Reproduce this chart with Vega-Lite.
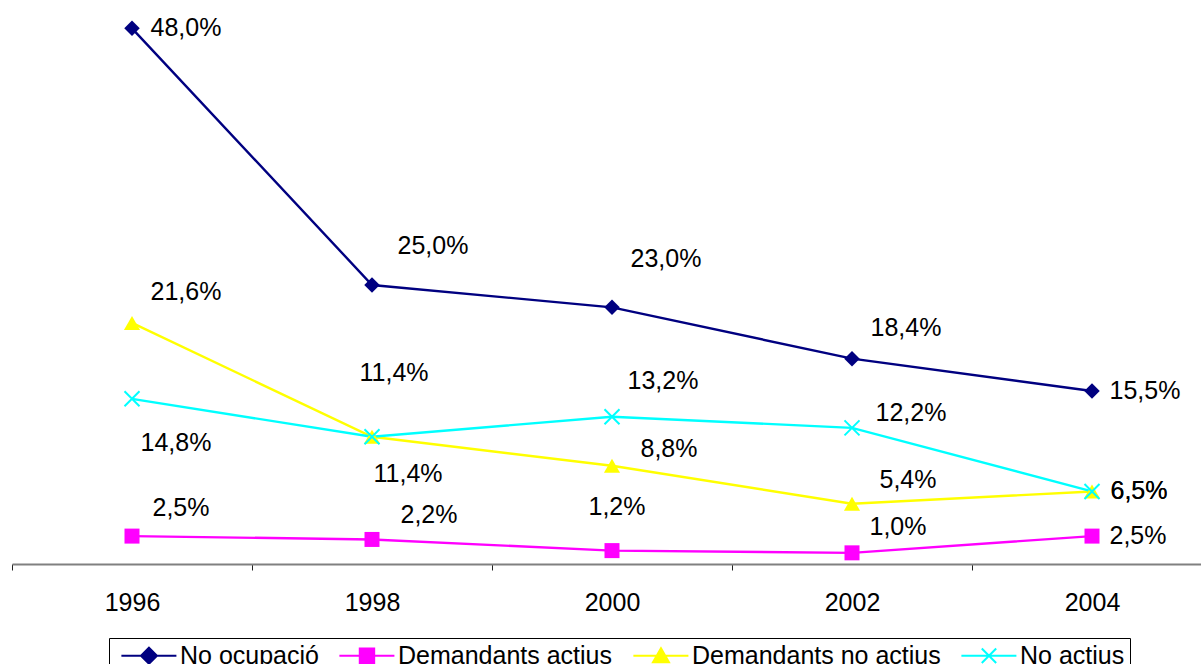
{
  "$schema": "https://vega.github.io/schema/vega-lite/v6.json",
  "width": 1189,
  "height": 558,
  "autosize": {"type": "none"},
  "padding": {"left": 12, "top": 6, "right": 0, "bottom": 100},
  "background": "white",
  "config": {
    "view": {"stroke": null},
    "font": "Liberation Sans",
    "locale": {"number": {"decimal": ",", "thousands": ".", "grouping": [3], "currency": ["", " €"]}},
    "text": {"font": "Liberation Sans", "fontSize": 25, "align": "center", "baseline": "middle", "color": "black"}
  },
  "data": {
    "values": [
      {"series": "No ocupació", "year": "1996", "value": 0.480},
      {"series": "No ocupació", "year": "1998", "value": 0.250},
      {"series": "No ocupació", "year": "2000", "value": 0.230},
      {"series": "No ocupació", "year": "2002", "value": 0.184},
      {"series": "No ocupació", "year": "2004", "value": 0.155},
      {"series": "Demandants actius", "year": "1996", "value": 0.025},
      {"series": "Demandants actius", "year": "1998", "value": 0.022},
      {"series": "Demandants actius", "year": "2000", "value": 0.012},
      {"series": "Demandants actius", "year": "2002", "value": 0.010},
      {"series": "Demandants actius", "year": "2004", "value": 0.025},
      {"series": "Demandants no actius", "year": "1996", "value": 0.216},
      {"series": "Demandants no actius", "year": "1998", "value": 0.114},
      {"series": "Demandants no actius", "year": "2000", "value": 0.088},
      {"series": "Demandants no actius", "year": "2002", "value": 0.054},
      {"series": "Demandants no actius", "year": "2004", "value": 0.065},
      {"series": "No actius", "year": "1996", "value": 0.148},
      {"series": "No actius", "year": "1998", "value": 0.114},
      {"series": "No actius", "year": "2000", "value": 0.132},
      {"series": "No actius", "year": "2002", "value": 0.122},
      {"series": "No actius", "year": "2004", "value": 0.065}
    ]
  },
  "encoding": {
    "x": {
      "field": "year", "type": "ordinal",
      "scale": {"type": "band", "range": [0, 1200], "paddingInner": 0, "paddingOuter": 0},
      "axis": {
        "title": null, "labelAngle": 0, "tickBand": "extent", "grid": false,
        "domainColor": "#808080", "domainWidth": 2, "tickColor": "#222222", "tickWidth": 1, "tickSize": 6,
        "labelFontSize": 25, "labelFont": "Liberation Sans", "labelColor": "black", "labelPadding": 20
      }
    },
    "y": {"field": "value", "type": "quantitative", "scale": {"domain": [0, 0.5]}, "axis": null}
  },
  "layer": [
    {
      "mark": {"type": "line", "strokeWidth": 2.4},
      "encoding": {
        "color": {
          "field": "series", "type": "nominal",
          "scale": {"domain": ["No ocupació", "Demandants actius", "Demandants no actius", "No actius"], "range": ["#000080", "#FF00FF", "#FFFF00", "#00FFFF"]},
          "legend": {"orient": "none", "legendX": 97, "legendY": 632, "direction": "horizontal", "title": null, "strokeColor": "black", "fillColor": "white", "padding": 5, "labelFontSize": 25, "labelFont": "Liberation Sans", "labelColor": "black", "labelLimit": 0, "labelOffset": 41, "columnPadding": 13, "symbolSize": 256, "symbolStrokeWidth": 2, "symbolOpacity": 1,
            "encode": {"symbols": {"update": {"fill": {"scale": "color", "field": "value"}, "stroke": {"scale": "color", "field": "value"}, "strokeWidth": {"value": 2}, "opacity": {"value": 1}}}}}
        }
      }
    },
    {
      "transform": [{"filter": "datum.series === 'No ocupació'"}],
      "mark": {"type": "point", "shape": "diamond", "filled": true, "size": 240, "fill": "#000080", "stroke": null, "opacity": 1}
    },
    {
      "transform": [{"filter": "datum.series === 'Demandants actius'"}],
      "mark": {"type": "point", "shape": "square", "filled": true, "size": 225, "fill": "#FF00FF", "stroke": null, "opacity": 1}
    },
    {
      "transform": [{"filter": "datum.series === 'Demandants no actius'"}],
      "mark": {"type": "point", "shape": "triangle-up", "filled": true, "size": 260, "fill": "#FFFF00", "stroke": null, "opacity": 1}
    },
    {
      "transform": [{"filter": "datum.series === 'No actius'"}],
      "mark": {"type": "point", "shape": "M-1,-1L1,1M-1,1L1,-1", "filled": false, "size": 225, "strokeWidth": 2, "stroke": "#00FFFF", "opacity": 1}
    },
    {
      "transform": [{"filter": "datum.year === '1996'"}],
      "mark": {"type": "point", "filled": true, "size": 256, "opacity": 0, "strokeWidth": 2},
      "encoding": {
        "color": {
          "field": "series", "type": "nominal",
          "scale": {"domain": ["No ocupació", "Demandants actius", "Demandants no actius", "No actius"], "range": ["#000080", "#FF00FF", "#FFFF00", "#00FFFF"]},
          "legend": {"orient": "none", "legendX": 97, "legendY": 632, "direction": "horizontal", "title": null, "strokeColor": "black", "fillColor": "white", "padding": 5, "labelFontSize": 25, "labelFont": "Liberation Sans", "labelColor": "black", "labelLimit": 0, "labelOffset": 41, "columnPadding": 13, "symbolSize": 256, "symbolStrokeWidth": 2, "symbolOpacity": 1,
            "encode": {"symbols": {"update": {"fill": {"scale": "color", "field": "value"}, "stroke": {"scale": "color", "field": "value"}, "strokeWidth": {"value": 2}, "opacity": {"value": 1}}}}}
        },
        "shape": {
          "field": "series", "type": "nominal",
          "scale": {"domain": ["No ocupació", "Demandants actius", "Demandants no actius", "No actius"],
            "range": [
              "M-0.64,0L6.24,0M2.81,-1L3.81,0L2.81,1L1.81,0Z",
              "M-0.64,0L6.24,0M1.91,-0.9L3.71,-0.9L3.71,0.9L1.91,0.9Z",
              "M-0.64,0L6.24,0M2.81,-0.95L3.81,0.8L1.81,0.8Z",
              "M-0.64,0L6.24,0M1.91,-0.9L3.71,0.9M1.91,0.9L3.71,-0.9"
            ]},
          "legend": {"orient": "none", "legendX": 97, "legendY": 632, "direction": "horizontal", "title": null, "strokeColor": "black", "fillColor": "white", "padding": 5, "labelFontSize": 25, "labelFont": "Liberation Sans", "labelColor": "black", "labelLimit": 0, "labelOffset": 41, "columnPadding": 13, "symbolSize": 256, "symbolStrokeWidth": 2, "symbolOpacity": 1,
            "encode": {"symbols": {"update": {"fill": {"scale": "color", "field": "value"}, "stroke": {"scale": "color", "field": "value"}, "strokeWidth": {"value": 2}, "opacity": {"value": 1}}}}}
        }
      }
    },
    {"transform": [{"filter": "datum.series === 'No ocupació' && datum.year === '1996'"}], "mark": {"type": "text", "dx": 54, "dy": 0}, "encoding": {"text": {"field": "value", "format": ".1%"}}},
    {"transform": [{"filter": "datum.series === 'No ocupació' && datum.year === '1998'"}], "mark": {"type": "text", "dx": 61, "dy": -39}, "encoding": {"text": {"field": "value", "format": ".1%"}}},
    {"transform": [{"filter": "datum.series === 'No ocupació' && datum.year === '2000'"}], "mark": {"type": "text", "dx": 54, "dy": -48}, "encoding": {"text": {"field": "value", "format": ".1%"}}},
    {"transform": [{"filter": "datum.series === 'No ocupació' && datum.year === '2002'"}], "mark": {"type": "text", "dx": 54, "dy": -31}, "encoding": {"text": {"field": "value", "format": ".1%"}}},
    {"transform": [{"filter": "datum.series === 'No ocupació' && datum.year === '2004'"}], "mark": {"type": "text", "dx": 53, "dy": 0}, "encoding": {"text": {"field": "value", "format": ".1%"}}},
    {"transform": [{"filter": "datum.series === 'Demandants actius' && datum.year === '1996'"}], "mark": {"type": "text", "dx": 49, "dy": -28}, "encoding": {"text": {"field": "value", "format": ".1%"}}},
    {"transform": [{"filter": "datum.series === 'Demandants actius' && datum.year === '1998'"}], "mark": {"type": "text", "dx": 57, "dy": -24}, "encoding": {"text": {"field": "value", "format": ".1%"}}},
    {"transform": [{"filter": "datum.series === 'Demandants actius' && datum.year === '2000'"}], "mark": {"type": "text", "dx": 5, "dy": -44}, "encoding": {"text": {"field": "value", "format": ".1%"}}},
    {"transform": [{"filter": "datum.series === 'Demandants actius' && datum.year === '2002'"}], "mark": {"type": "text", "dx": 46, "dy": -26}, "encoding": {"text": {"field": "value", "format": ".1%"}}},
    {"transform": [{"filter": "datum.series === 'Demandants actius' && datum.year === '2004'"}], "mark": {"type": "text", "dx": 46, "dy": 0}, "encoding": {"text": {"field": "value", "format": ".1%"}}},
    {"transform": [{"filter": "datum.series === 'Demandants no actius' && datum.year === '1996'"}], "mark": {"type": "text", "dx": 54, "dy": -31}, "encoding": {"text": {"field": "value", "format": ".1%"}}},
    {"transform": [{"filter": "datum.series === 'Demandants no actius' && datum.year === '1998'"}], "mark": {"type": "text", "dx": 36, "dy": 37}, "encoding": {"text": {"field": "value", "format": ".1%"}}},
    {"transform": [{"filter": "datum.series === 'Demandants no actius' && datum.year === '2000'"}], "mark": {"type": "text", "dx": 57, "dy": -17}, "encoding": {"text": {"field": "value", "format": ".1%"}}},
    {"transform": [{"filter": "datum.series === 'Demandants no actius' && datum.year === '2002'"}], "mark": {"type": "text", "dx": 56, "dy": -24}, "encoding": {"text": {"field": "value", "format": ".1%"}}},
    {"transform": [{"filter": "datum.series === 'Demandants no actius' && datum.year === '2004'"}], "mark": {"type": "text", "dx": 47, "dy": 0}, "encoding": {"text": {"field": "value", "format": ".1%"}}},
    {"transform": [{"filter": "datum.series === 'No actius' && datum.year === '1996'"}], "mark": {"type": "text", "dx": 44, "dy": 44}, "encoding": {"text": {"field": "value", "format": ".1%"}}},
    {"transform": [{"filter": "datum.series === 'No actius' && datum.year === '1998'"}], "mark": {"type": "text", "dx": 22, "dy": -64}, "encoding": {"text": {"field": "value", "format": ".1%"}}},
    {"transform": [{"filter": "datum.series === 'No actius' && datum.year === '2000'"}], "mark": {"type": "text", "dx": 51, "dy": -36}, "encoding": {"text": {"field": "value", "format": ".1%"}}},
    {"transform": [{"filter": "datum.series === 'No actius' && datum.year === '2002'"}], "mark": {"type": "text", "dx": 59, "dy": -15}, "encoding": {"text": {"field": "value", "format": ".1%"}}},
    {"transform": [{"filter": "datum.series === 'No actius' && datum.year === '2004'"}], "mark": {"type": "text", "dx": 47, "dy": 0}, "encoding": {"text": {"field": "value", "format": ".1%"}}}
  ]
}
